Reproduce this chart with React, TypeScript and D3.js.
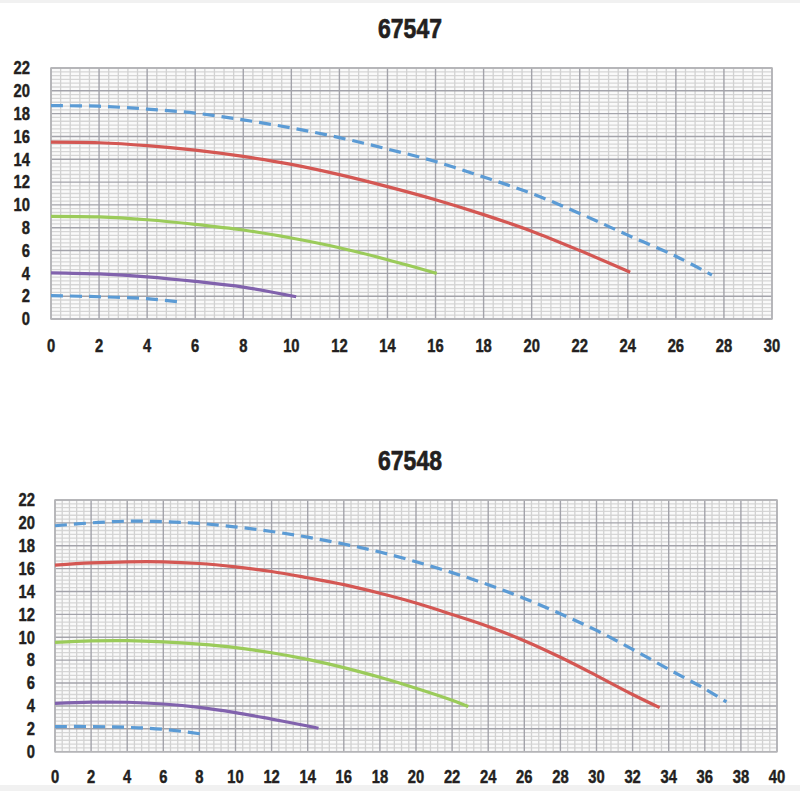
import React from "react";
import * as d3 from "d3";

type Pt = [number, number];

// ---------- Chart 1: 67547 ----------
const title1 = "67547";
const xTicks1 = [0, 2, 4, 6, 8, 10, 12, 14, 16, 18, 20, 22, 24, 26, 28, 30];
const yTicks = [0, 2, 4, 6, 8, 10, 12, 14, 16, 18, 20, 22];
const c1BlueHigh: Pt[] = [[0, 18.7], [2, 18.65], [4, 18.4], [6, 18.05], [8, 17.45], [10, 16.75], [12, 15.9], [14, 14.9], [16, 13.8], [18, 12.45], [20, 11.0], [22, 9.25], [24, 7.35], [26, 5.5], [27.5, 3.85]];
const c1Red: Pt[] = [[0, 15.5], [2, 15.45], [4, 15.2], [6, 14.8], [8, 14.25], [10, 13.55], [12, 12.65], [14, 11.6], [16, 10.45], [18, 9.15], [20, 7.7], [22, 6.0], [24.1, 4.1]];
const c1Green: Pt[] = [[0, 9.0], [2, 8.95], [4, 8.7], [6, 8.3], [8, 7.8], [10, 7.1], [12, 6.25], [14, 5.2], [16.05, 4.0]];
const c1Purple: Pt[] = [[0, 4.05], [2, 3.95], [4, 3.7], [6, 3.3], [8, 2.8], [10.2, 1.95]];
const c1BlueLow: Pt[] = [[0, 2.05], [2, 1.95], [4, 1.78], [5.3, 1.5]];

// ---------- Chart 2: 67548 ----------
const title2 = "67548";
const xTicks2 = [0, 2, 4, 6, 8, 10, 12, 14, 16, 18, 20, 22, 24, 26, 28, 30, 32, 34, 36, 38, 40];
const c2BlueHigh: Pt[] = [[0, 19.75], [2, 20.0], [4, 20.15], [6, 20.1], [8, 19.95], [10, 19.65], [12, 19.25], [14, 18.75], [16, 18.15], [18, 17.45], [20, 16.6], [22, 15.65], [24, 14.6], [26, 13.4], [28, 12.05], [30, 10.6], [32, 8.95], [34, 7.2], [36, 5.5], [37.2, 4.35]];
const c2Red: Pt[] = [[0, 16.3], [2, 16.5], [4, 16.6], [6, 16.6], [8, 16.45], [10, 16.15], [12, 15.75], [14, 15.2], [16, 14.6], [18, 13.85], [20, 13.0], [22, 12.0], [24, 10.95], [26, 9.7], [28, 8.25], [30, 6.65], [32, 5.0], [33.5, 3.85]];
const c2Green: Pt[] = [[0, 9.55], [2, 9.68], [4, 9.7], [6, 9.6], [8, 9.4], [10, 9.1], [12, 8.65], [14, 8.07], [16, 7.35], [18, 6.5], [20, 5.55], [22, 4.5], [22.9, 3.95]];
const c2Purple: Pt[] = [[0, 4.23], [2, 4.33], [4, 4.32], [6, 4.17], [8, 3.88], [10, 3.42], [12, 2.85], [14, 2.25], [14.6, 2.05]];
const c2BlueLow: Pt[] = [[0, 2.2], [2, 2.2], [4, 2.13], [6, 1.96], [8.1, 1.55]];

const BLUE = "#5b9bd5";
const RED = "#d45753";
const GREEN = "#9bcb5a";
const PURPLE = "#8162ad";
const TEXT = "#231f20";
const FONT = "'Liberation Sans', Arial, sans-serif";
const NARROW = 0.82;

interface ChartProps {
  title: string;
  titleY: number;
  left: number;
  right: number;
  top: number;
  bottom: number;
  xMax: number;
  xTicks: number[];
  yLabelX: number;
  xLabelY: number;
  series: { data: Pt[]; color: string; dashed: boolean }[];
}

function NText(props: { x: number; y: number; anchor: string; size: number; dy?: string; children: React.ReactNode }) {
  return (
    <text
      transform={`translate(${props.x},${props.y}) scale(${NARROW},1)`}
      dy={props.dy}
      textAnchor={props.anchor}
      fontFamily={FONT}
      fontWeight="bold"
      fontSize={props.size}
      fill={TEXT}
      stroke={TEXT}
      strokeWidth={props.size > 20 ? 0.7 : 0.45}
    >
      {props.children}
    </text>
  );
}

function Chart(p: ChartProps) {
  const x = d3.scaleLinear().domain([0, p.xMax]).range([p.left, p.right]);
  const y = d3.scaleLinear().domain([0, 22]).range([p.bottom, p.top]);
  const line = d3
    .line<Pt>()
    .x((d) => x(d[0]))
    .y((d) => y(d[1]))
    .curve(d3.curveCatmullRom.alpha(0.5));

  const minorX: number[] = [];
  for (let i = 0; i <= p.xMax * 2.5 + 0.001; i++) {
    if (i % 5 !== 0) minorX.push(i * 0.4);
  }
  const minorY: number[] = [];
  for (let i = 0; i <= 66; i++) {
    if (i % 6 !== 0) minorY.push(i / 3);
  }

  return (
    <g>
      <NText x={410} y={p.titleY} anchor="middle" size={28}>
        {p.title}
      </NText>
      <rect x={p.left} y={p.top} width={p.right - p.left} height={p.bottom - p.top} fill="#fafafa" />
      {minorY.map((v) => (
        <line key={"my" + v} x1={p.left} x2={p.right} y1={y(v)} y2={y(v)} stroke="#d6d6d6" strokeWidth={1.3} />
      ))}
      {minorX.map((v) => (
        <line key={"mx" + v} x1={x(v)} x2={x(v)} y1={p.top} y2={p.bottom} stroke="#d2d2d2" strokeWidth={1.3} />
      ))}
      {yTicks.map((v) => (
        <line key={"gy" + v} x1={p.left} x2={p.right} y1={y(v)} y2={y(v)} stroke="#a3a3aa" strokeWidth={1.4} />
      ))}
      {p.xTicks.map((v) => (
        <line key={"gx" + v} x1={x(v)} x2={x(v)} y1={p.top} y2={p.bottom} stroke="#a3a3aa" strokeWidth={1.4} />
      ))}
      <rect
        x={p.left}
        y={p.top}
        width={p.right - p.left}
        height={p.bottom - p.top}
        fill="none"
        stroke="#b5b5b8"
        strokeWidth={1.5}
      />
      {p.series.map((s, i) => (
        <path
          key={"s" + i}
          d={line(s.data) || ""}
          fill="none"
          stroke={s.color}
          strokeWidth={3.2}
          strokeDasharray={s.dashed ? "12 7" : undefined}
        />
      ))}
      {yTicks.map((v) => (
        <NText key={"yl" + v} x={p.yLabelX} y={y(v)} dy="0.35em" anchor="end" size={18}>
          {v}
        </NText>
      ))}
      {p.xTicks.map((v) => (
        <NText key={"xl" + v} x={x(v)} y={p.xLabelY} dy="0.35em" anchor="middle" size={18}>
          {v}
        </NText>
      ))}
    </g>
  );
}

export default function App() {
  return (
    <svg
      width={800}
      height={791}
      style={{ position: "absolute", left: 0, top: 0, background: "#fff" }}
    >
      <rect x={0} y={0} width={800} height={791} fill="#fff" />
      <rect x={0} y={0} width={800} height={3} fill="#f1f1f1" />
      <rect x={0} y={785} width={800} height={6} fill="#f1f1f1" />
      <Chart
        title={title1}
        titleY={38}
        left={51}
        right={772}
        top={68}
        bottom={319}
        xMax={30}
        xTicks={xTicks1}
        yLabelX={30}
        xLabelY={346}
        series={[
          { data: c1BlueHigh, color: BLUE, dashed: true },
          { data: c1Red, color: RED, dashed: false },
          { data: c1Green, color: GREEN, dashed: false },
          { data: c1Purple, color: PURPLE, dashed: false },
          { data: c1BlueLow, color: BLUE, dashed: true },
        ]}
      />
      <Chart
        title={title2}
        titleY={470}
        left={55}
        right={777}
        top={500}
        bottom={751.7}
        xMax={40}
        xTicks={xTicks2}
        yLabelX={35}
        xLabelY={777}
        series={[
          { data: c2BlueHigh, color: BLUE, dashed: true },
          { data: c2Red, color: RED, dashed: false },
          { data: c2Green, color: GREEN, dashed: false },
          { data: c2Purple, color: PURPLE, dashed: false },
          { data: c2BlueLow, color: BLUE, dashed: true },
        ]}
      />
    </svg>
  );
}
